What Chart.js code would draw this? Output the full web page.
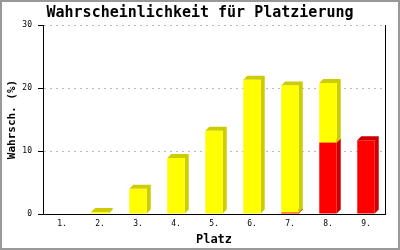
<!DOCTYPE html>
<html lang="de">
<head>
<meta charset="UTF-8">
<title>Wahrscheinlichkeit für Platzierung</title>
<script src="https://cdn.jsdelivr.net/npm/chart.js"></script>
<style>
  html, body { margin: 0; padding: 0; background: #fff; }
  canvas { display: block; }
</style>
</head>
<body>
<canvas id="platzChart" width="400" height="250"></canvas>
<script>
// Werte
const platzLabels = ["1.", "2.", "3.", "4.", "5.", "6.", "7.", "8.", "9."];
const rotWerte  = [0, 0, 0, 0, 0, 0, 0.2, 11.3, 11.7];
const gelbWerte = [0, 0.3, 4.0, 8.9, 13.2, 21.3, 20.2, 9.5, 0];
const yTicks = [0, 10, 20, 30];

const mono = "'DejaVu Sans Mono', 'Liberation Mono', monospace";

// 3D-Effekt: Deckel und Seite hinter den Balken zeichnen
const tiefe = {
  id: "tiefe",
  beforeDatasetsDraw(chart) {
    const ctx = chart.ctx;
    const d = 4;
    chart.data.datasets.forEach((ds, i) => {
      const meta = chart.getDatasetMeta(i);
      meta.data.forEach((bar, j) => {
        if (!ds.data[j]) return;
        const { x, y, base, width } = bar.getProps(["x", "y", "base", "width"], true);
        const l = x - width / 2, r = x + width / 2;
        ctx.save();
        ctx.fillStyle = ds.sideColor;
        ctx.beginPath();
        ctx.moveTo(l, y);
        ctx.lineTo(l + d, y - d);
        ctx.lineTo(r + d, y - d);
        ctx.lineTo(r + d, base - d);
        ctx.lineTo(r, base);
        ctx.lineTo(r, y);
        ctx.closePath();
        ctx.fill();
        ctx.restore();
      });
    });
  },
  afterDraw(chart) {
    // grauer Rahmen ums Bild
    const ctx = chart.ctx;
    ctx.save();
    ctx.strokeStyle = "#999";
    ctx.lineWidth = 2;
    ctx.strokeRect(1, 1, 398, 248);
    ctx.restore();
  }
};

new Chart(document.getElementById("platzChart"), {
  type: "bar",
  data: {
    labels: platzLabels,
    datasets: [
      { label: "rot", data: rotWerte, backgroundColor: "#ff0000", sideColor: "#cc0000" },
      { label: "gelb", data: gelbWerte, backgroundColor: "#ffff00", sideColor: "#cccc00" }
    ]
  },
  options: {
    responsive: false,
    animation: false,
    layout: { padding: 0 },
    datasets: { bar: { categoryPercentage: 1, barPercentage: 0.46 } },
    plugins: {
      legend: { display: false },
      tooltip: { enabled: false },
      title: {
        display: true,
        text: "Wahrscheinlichkeit für Platzierung",
        color: "#000",
        font: { family: mono, size: 15, weight: "bold" },
        padding: { top: 4, bottom: 3 }
      }
    },
    scales: {
      x: {
        stacked: true,
        grid: { display: false, drawTicks: false },
        border: { display: true, color: "#000", width: 1 },
        ticks: { color: "#000", font: { family: mono, size: 8 }, padding: 5 },
        title: {
          display: true, text: "Platz", color: "#000",
          font: { family: mono, size: 12, weight: "bold" },
          padding: { top: 0, bottom: 3 }
        },
        afterFit: s => { s.height = 36; }
      },
      y: {
        stacked: true,
        min: 0, max: 30,
        afterBuildTicks: s => { s.ticks = yTicks.map(v => ({ value: v })); },
        grid: {
          color: c => (c.tick && c.tick.value === 0) ? "rgba(0,0,0,0)" : "#bbb",
          tickColor: "#000", tickLength: 5, lineWidth: 1
        },
        border: { display: true, color: "#000", width: 1, dash: [2, 4] },
        ticks: { color: "#000", font: { family: mono, size: 8 }, padding: 6 },
        title: {
          display: true, text: "Wahrsch. (%)", color: "#000",
          font: { family: mono, size: 11, weight: "bold" },
          padding: { top: 6, bottom: 0 }
        },
        afterFit: s => { s.width = 43; }
      },
      y2: {
        position: "right",
        min: 0, max: 30,
        grid: { drawOnChartArea: false, drawTicks: false },
        border: { display: true, color: "#000", width: 1 },
        ticks: { display: false },
        afterFit: s => { s.width = 15; }
      }
    }
  },
  plugins: [tiefe]
});
</script>
</body>
</html>
